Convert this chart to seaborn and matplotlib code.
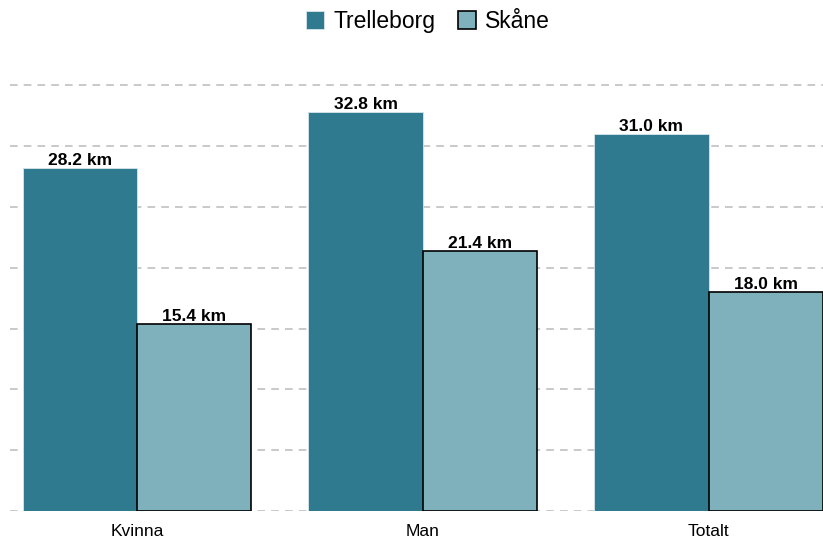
import pandas as pd
import seaborn as sns
import matplotlib.pyplot as plt

# Data
categories = ['Kvinna', 'Man', 'Totalt']
trelleborg = [28.2, 32.8, 31.0]
skane = [15.4, 21.4, 18.0]
series = ['Trelleborg', 'Skåne']
colors = ['#2f7a8e', '#7eb1bb']

df = pd.DataFrame({
    'kategori': categories * 2,
    'km': trelleborg + skane,
    'omrade': [series[0]] * len(categories) + [series[1]] * len(categories),
})

sns.set_style('white')
plt.rcParams['font.family'] = ['Liberation Sans', 'DejaVu Sans']
plt.rcParams['text.color'] = 'black'
plt.rcParams['xtick.color'] = 'black'

fig = plt.figure(figsize=(8.23, 5.42), dpi=100)
ax = fig.add_axes([10 / 823, 31 / 542, 813 / 823, 439 / 542])

sns.barplot(data=df, x='kategori', y='km', hue='omrade', palette=colors,
            saturation=1, width=0.8, errorbar=None, ax=ax, legend=False, zorder=2)

# edges: light outline on dark bars, black outline on light bars
for bar in ax.containers[0]:
    bar.set_edgecolor('#d8e6ea')
    bar.set_linewidth(0.6)
for bar in ax.containers[1]:
    bar.set_edgecolor('black')
    bar.set_linewidth(1.2)

for cont in ax.containers:
    ax.bar_label(cont, fmt='%.1f km', padding=0, fontsize=12.5, fontweight='bold')

ax.set_ylim(0, 36.1)
ax.set_xlim(-0.444, 2.4)
ax.set_yticks(range(0, 36, 5))
ax.yaxis.grid(True, linestyle=(0, (5, 4)), color='#bbbbbb', linewidth=1.1, zorder=0)
ax.set_axisbelow(True)
ax.tick_params(axis='y', left=False, labelleft=False)
ax.tick_params(axis='x', bottom=False, labelsize=12.5, pad=6)
ax.set_xlabel('')
ax.set_ylabel('')
sns.despine(ax=ax, left=True, bottom=True)

handles = [plt.Rectangle((0, 0), 1, 1, facecolor=colors[0], edgecolor='#d8e6ea', linewidth=0.6),
           plt.Rectangle((0, 0), 1, 1, facecolor=colors[1], edgecolor='black', linewidth=1.2)]
fig.legend(handles, series, loc='upper center', bbox_to_anchor=(0.52, 1.02), ncol=2,
           frameon=False, fontsize=16.5, handlelength=0.8, handleheight=0.8,
           handletextpad=0.4, columnspacing=1.0)

fig.savefig('out.png', dpi=100)
